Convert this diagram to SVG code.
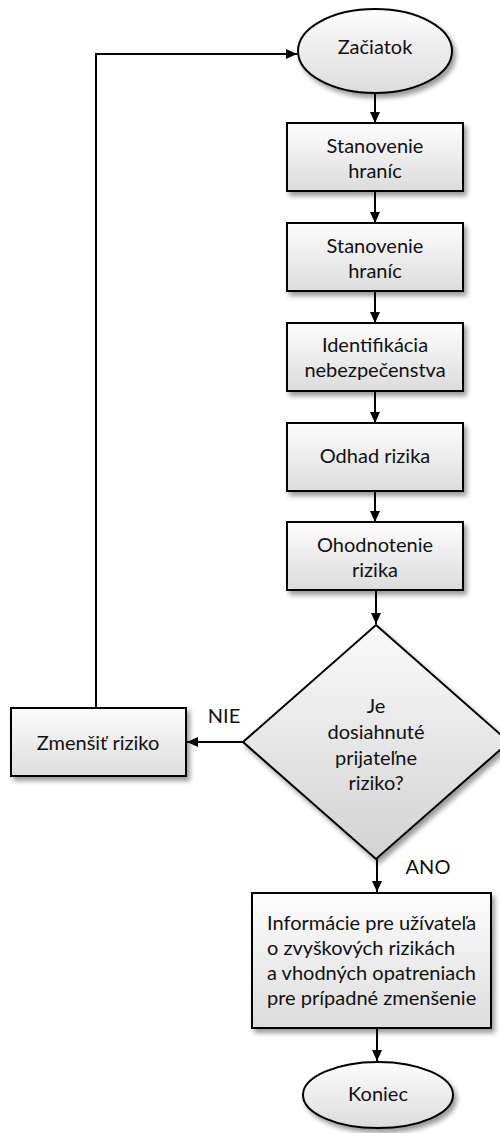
<svg xmlns="http://www.w3.org/2000/svg" width="500" height="1133" viewBox="0 0 500 1133">
  <style>
    .shape { stroke: #000; stroke-width: 2; filter: url(#shadow); }
    .box { fill: url(#gradBox); }
    .oval { fill: url(#gradBox); }
    .decision { fill: url(#gradDiamond); }
    .label { font-family: Lato, "Liberation Sans", sans-serif; font-size: 20px; fill: #111; text-anchor: middle; }
    .left { text-anchor: start; }
    .edge { stroke: #000; stroke-width: 2; fill: none; marker-end: url(#arrow); }
  </style>
  <defs>
    <linearGradient id="gradBox" x1="0" y1="0" x2="0" y2="1">
      <stop offset="0" stop-color="#fdfdfd"/>
      <stop offset="1" stop-color="#dcdcdc"/>
    </linearGradient>
    <linearGradient id="gradDiamond" x1="0" y1="0" x2="0" y2="1">
      <stop offset="0" stop-color="#fafafa"/>
      <stop offset="1" stop-color="#d2d2d2"/>
    </linearGradient>
    <filter id="shadow" x="-10%" y="-10%" width="125%" height="130%">
      <feGaussianBlur in="SourceAlpha" stdDeviation="2.5"/>
      <feOffset dx="3" dy="4" result="blur"/>
      <feComponentTransfer><feFuncA type="linear" slope="0.4"/></feComponentTransfer>
      <feMerge><feMergeNode/><feMergeNode in="SourceGraphic"/></feMerge>
    </filter>
    <marker id="arrow" markerUnits="userSpaceOnUse" markerWidth="12" markerHeight="12" viewBox="0 0 12 12" refX="11" refY="6" orient="auto">
      <path d="M0,1 L11,6 L0,11 Z" fill="#000"/>
    </marker>
  </defs>

  <!-- connectors -->
  <g id="connectors">
    <line class="edge" x1="375" y1="94" x2="375" y2="123"/>
    <line class="edge" x1="375" y1="191" x2="375" y2="223"/>
    <line class="edge" x1="375" y1="291" x2="375" y2="323"/>
    <line class="edge" x1="375" y1="391" x2="375" y2="423"/>
    <line class="edge" x1="375" y1="491" x2="375" y2="522"/>
    <line class="edge" x1="376" y1="590" x2="376" y2="624"/>
    <line class="edge" x1="243" y1="742" x2="187" y2="742"/>
    <polyline class="edge" points="96,708 96,54 297,54"/>
    <line class="edge" x1="377" y1="859" x2="377" y2="892"/>
    <line class="edge" x1="377" y1="1028" x2="377" y2="1061"/>
    <text class="label" x="224" y="723">NIE</text>
    <text class="label" x="428" y="874">ANO</text>
  </g>

  <g id="start">
    <ellipse class="shape oval" cx="375" cy="51" rx="77" ry="42"/>
    <text class="label" x="375" y="54">Začiatok</text>
  </g>

  <g id="boundaries1">
    <rect class="shape box" x="287" y="123" width="176" height="68"/>
    <text class="label" x="375" y="153">Stanovenie</text>
    <text class="label" x="375" y="178">hraníc</text>
  </g>

  <g id="boundaries2">
    <rect class="shape box" x="287" y="223" width="176" height="68"/>
    <text class="label" x="375" y="253">Stanovenie</text>
    <text class="label" x="375" y="278">hraníc</text>
  </g>

  <g id="hazard">
    <rect class="shape box" x="287" y="323" width="176" height="68"/>
    <text class="label" x="375" y="352">Identifikácia</text>
    <text class="label" x="375" y="377">nebezpečenstva</text>
  </g>

  <g id="estimate">
    <rect class="shape box" x="287" y="423" width="176" height="68"/>
    <text class="label" x="375" y="463">Odhad rizika</text>
  </g>

  <g id="evaluate">
    <rect class="shape box" x="287" y="522" width="176" height="68"/>
    <text class="label" x="375" y="552">Ohodnotenie</text>
    <text class="label" x="375" y="577">rizika</text>
  </g>

  <g id="decision">
    <polygon class="shape decision" points="376,625 509,742 376,859 243,742"/>
    <text class="label" x="376" y="713">Je</text>
    <text class="label" x="376" y="739">dosiahnuté</text>
    <text class="label" x="376" y="765">prijateľne</text>
    <text class="label" x="376" y="790">riziko?</text>
  </g>

  <g id="reduce">
    <rect class="shape box" x="11" y="708" width="175" height="68"/>
    <text class="label" x="98" y="750">Zmenšiť riziko</text>
  </g>

  <g id="info">
    <rect class="shape box" x="252" y="893" width="239" height="135"/>
    <text class="label left" x="267" y="930">Informácie pre užívateľa</text>
    <text class="label left" x="267" y="955">o zvyškových rizikách</text>
    <text class="label left" x="267" y="980">a vhodných opatreniach</text>
    <text class="label left" x="267" y="1005">pre prípadné zmenšenie</text>
  </g>

  <g id="end">
    <ellipse class="shape oval" cx="378" cy="1095" rx="75" ry="33"/>
    <text class="label" x="378" y="1101">Koniec</text>
  </g>
</svg>
